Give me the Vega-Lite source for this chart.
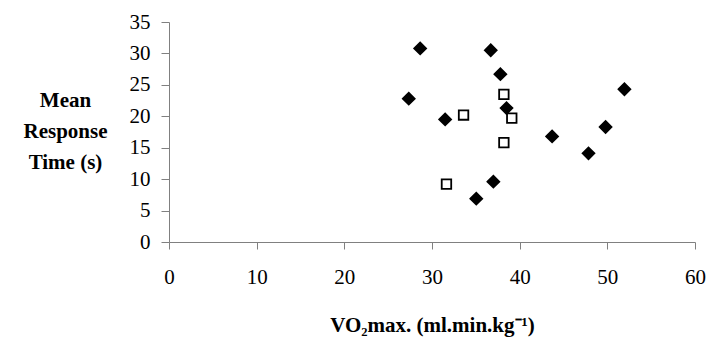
{
  "$schema": "https://vega.github.io/schema/vega-lite/v6.json",
  "width": 526,
  "height": 220,
  "autosize": {"type": "none"},
  "padding": {"left": 169, "top": 22, "right": 16, "bottom": 98},
  "background": "white",
  "config": {
    "view": {"stroke": null},
    "font": "Liberation Serif",
    "axis": {"grid": false, "domainColor": "#808080", "tickColor": "#808080", "labelColor": "black", "titleColor": "black", "labelFont": "Liberation Serif", "titleFont": "Liberation Serif"}
  },
  "data": {
    "values": [
      {"vo2": 28.65, "rt": 30.8, "group": "A"},
      {"vo2": 36.7, "rt": 30.5, "group": "A"},
      {"vo2": 37.8, "rt": 26.7, "group": "A"},
      {"vo2": 27.35, "rt": 22.8, "group": "A"},
      {"vo2": 31.5, "rt": 19.5, "group": "A"},
      {"vo2": 38.5, "rt": 21.3, "group": "A"},
      {"vo2": 43.7, "rt": 16.8, "group": "A"},
      {"vo2": 47.85, "rt": 14.1, "group": "A"},
      {"vo2": 49.8, "rt": 18.3, "group": "A"},
      {"vo2": 51.95, "rt": 24.3, "group": "A"},
      {"vo2": 37.0, "rt": 9.6, "group": "A"},
      {"vo2": 35.05, "rt": 6.9, "group": "A"},
      {"vo2": 33.6, "rt": 20.2, "group": "B"},
      {"vo2": 38.2, "rt": 23.5, "group": "B"},
      {"vo2": 39.1, "rt": 19.7, "group": "B"},
      {"vo2": 38.2, "rt": 15.8, "group": "B"},
      {"vo2": 31.65, "rt": 9.2, "group": "B"}
    ]
  },
  "mark": {"type": "point", "filled": false, "stroke": "black", "strokeWidth": 1.8, "opacity": 1},
  "encoding": {
    "x": {
      "field": "vo2", "type": "quantitative",
      "scale": {"domain": [0, 60], "nice": false, "zero": true},
      "axis": {
        "values": [0, 10, 20, 30, 40, 50, 60],
        "tickSize": 7, "labelPadding": 17, "labelFontSize": 21, "labelFlush": false,
        "title": "VO₂max. (ml.min.kg⁻¹)", "titleFontSize": 21, "titleFontWeight": "bold",
        "titleY": 89, "titleBaseline": "alphabetic"
      }
    },
    "y": {
      "field": "rt", "type": "quantitative",
      "scale": {"domain": [0, 35], "nice": false},
      "axis": {
        "values": [0, 5, 10, 15, 20, 25, 30, 35],
        "tickSize": 8, "labelPadding": 11, "labelFontSize": 21, "labelFlush": false,
        "title": ["Mean", "Response", "Time (s)"], "titleFontSize": 21, "titleFontWeight": "bold",
        "titleAngle": 0, "titleAlign": "center", "titleBaseline": "middle",
        "titleX": -104, "titleY": 78, "titleLineHeight": 31
      }
    },
    "shape": {"field": "group", "type": "nominal", "scale": {"domain": ["A", "B"], "range": ["diamond", "square"]}, "legend": null},
    "fill": {"field": "group", "type": "nominal", "scale": {"domain": ["A", "B"], "range": ["black", "white"]}, "legend": null},
    "size": {"field": "group", "type": "nominal", "scale": {"domain": ["A", "B"], "range": [140, 90]}, "legend": null}
  }
}
